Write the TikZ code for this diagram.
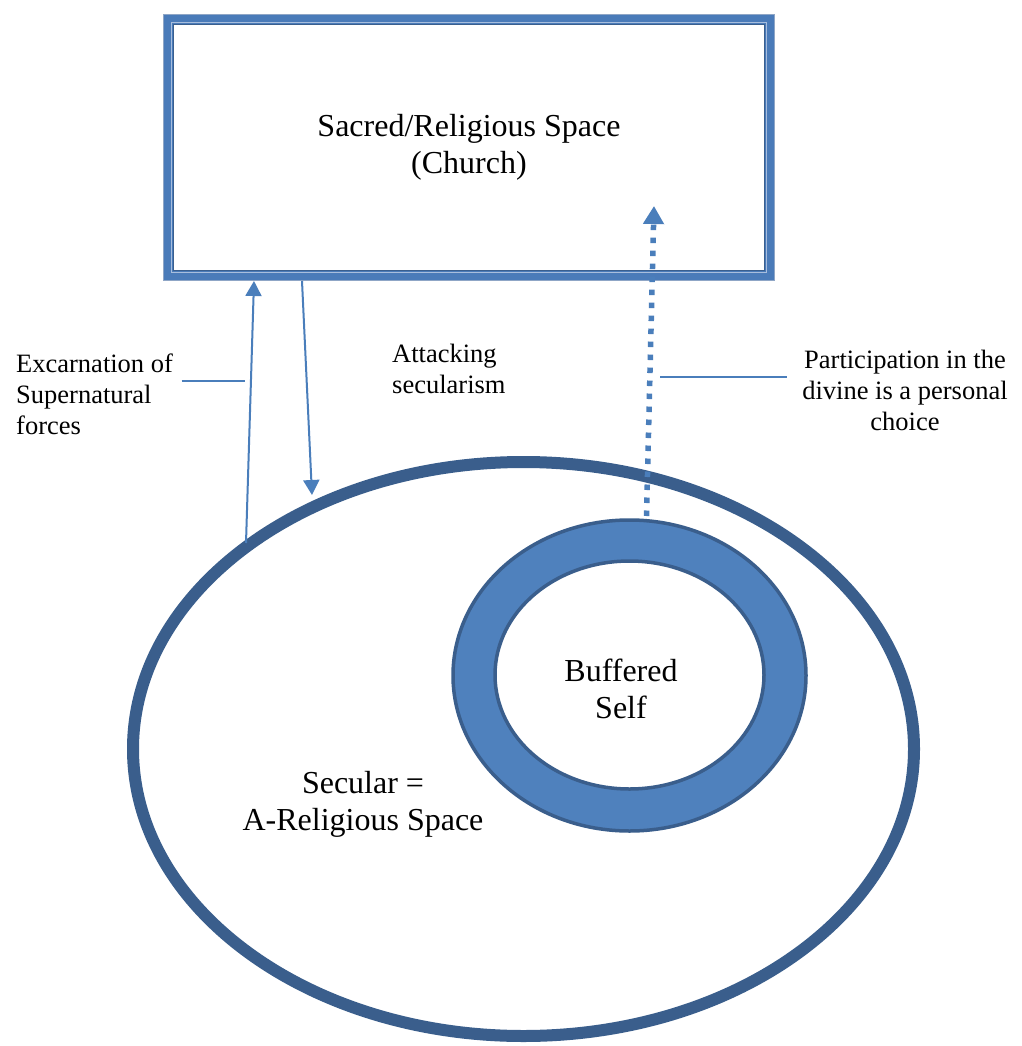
\documentclass[tikz,border=0pt]{standalone}
\usepackage{fontspec}
\setmainfont{Liberation Serif}
\usetikzlibrary{arrows.meta,shapes.geometric,calc}
\definecolor{cBand}{HTML}{4A7BB9}
\definecolor{cEdge}{HTML}{8FA6C6}
\definecolor{cSep}{HTML}{A8BEDD}
\definecolor{cInner}{HTML}{3A5F8E}
\definecolor{cDark}{HTML}{3A5E8C}
\definecolor{cFill}{HTML}{4F81BD}
\definecolor{cLine}{HTML}{4A7EBB}
\tikzset{
  bigfont/.style={font=\fontsize{32}{36.8}\selectfont},
  smallfont/.style={font=\fontsize{26.5}{30.6}\selectfont},
  churchbox/.style={rectangle, draw=cBand, line width=11pt, fill=white, outer sep=0pt,
    minimum width=601pt, minimum height=256pt, inner sep=0pt, align=center, bigfont},
  bigoval/.style={ellipse, draw=cDark, line width=12pt, inner sep=0pt,
    minimum width=781pt, minimum height=574pt},
  ringoval/.style={ellipse, draw=cDark, fill=cFill, line width=3.5pt, inner sep=0pt,
    minimum width=353pt, minimum height=311pt},
  holeoval/.style={ellipse, draw=cDark, fill=white, line width=3.5pt, inner sep=0pt,
    minimum width=269pt, minimum height=228pt},
  lbl/.style={inner sep=0pt, smallfont},
  biglbl/.style={inner sep=0pt, bigfont, align=center},
  conn/.style={draw=cLine, line width=2pt},
  arr/.style={conn, -{Triangle[width=16pt,length=15pt]}},
  dotarr/.style={draw=cLine, line width=5.5pt, dash pattern=on 5.5pt off 7.5pt,
    -{Triangle[width=20pt,length=18pt]}},
}
\begin{document}
\begin{tikzpicture}[x=1pt,y=-1pt]
\useasboundingbox (0,0) rectangle (1021,1046);
\fill[white] (0,0) rectangle (1021,1046);

% Sacred space box
\node[churchbox] (church) at (469,147.5) {Sacred/Religious Space\\(Church)};
\draw[cEdge, line width=1pt] ($(church.north west)+(-5,-5)$) rectangle ($(church.south east)+(5,5)$);
\draw[cSep, line width=1pt] ($(church.north west)+(2.6,2.6)$) rectangle ($(church.south east)+(-2.6,-2.6)$);
\draw[cInner, line width=0.8pt] ($(church.north west)+(5.2,5.2)$) rectangle ($(church.south east)+(-5.2,-5.2)$);

% Secular space
\node[bigoval] (secular) at (523.5,749) {};
\node[biglbl, anchor=base] (sectext) at (363,830) {Secular =\\A-Religious Space};

% Buffered self ring
\node[ringoval] (ring) at (629.5,675.5) {};
\node[holeoval] (hole) at (629.5,675) {};
\node[biglbl, anchor=base] (selftext) at (621,718) {Buffered\\Self};

% Labels
\node[lbl, anchor=base west, align=left] (exlabel) at (16,434) {Excarnation of\\Supernatural\\forces};
\node[lbl, anchor=base west, align=left] (attlabel) at (392,393) {Attacking\\secularism};
\node[lbl, anchor=base, align=center] (partlabel) at (905,430) {Participation in the\\divine is a personal\\choice};

% connector end points
\coordinate (exbot) at (246,543);
\coordinate (extop) at (254,281);
\coordinate (attop) at (302,281);
\coordinate (atbot) at (312,495);
\coordinate (exl1) at (181.5,380.7);
\coordinate (exl2) at (245,380.7);
\coordinate (dotbot) at (646.5,516);
\coordinate (dottop) at (654,206);
\coordinate (pl1) at (660,376.7);
\coordinate (pl2) at (787,376.7);

\draw[arr] (exbot) -- (extop);
\draw[arr] (attop) -- (atbot);
\draw[conn] (exl1) -- (exl2);
\draw[dotarr] (dotbot) -- (dottop);
\draw[conn] (pl1) -- (pl2);
\end{tikzpicture}
\end{document}
